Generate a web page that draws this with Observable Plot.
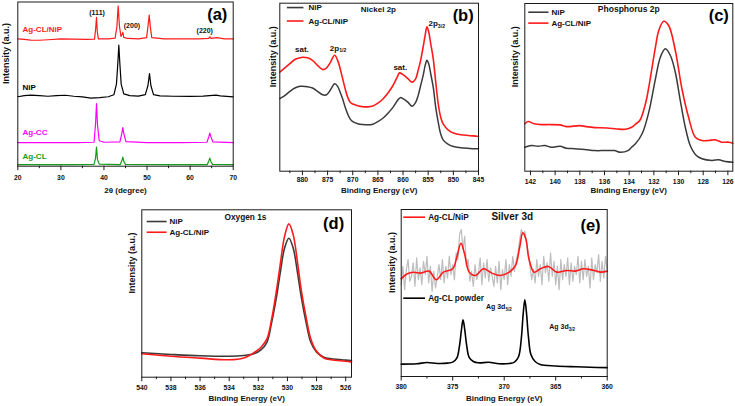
<!DOCTYPE html>
<html><head><meta charset="utf-8">
<script src="https://cdn.jsdelivr.net/npm/d3@7"></script>
<script src="https://cdn.jsdelivr.net/npm/@observablehq/plot@0.6"></script>
<style>
body{margin:0;background:#fff;}
#fig{position:relative;width:735px;height:406px;overflow:hidden;background:#fff;}
#fig svg{position:absolute;}
</style></head><body><div id="fig"></div>
<script>
// ---------- (a) XRD : [2theta, intensity] ----------
const xrdAgCL = [[20,0.9],[26,0.9],[32,1.0],[37.7,1.1],[38.05,5],[38.27,11.6],[38.5,4],[38.9,1.3],[43.8,1.0],[44.2,3.8],[44.38,5.5],[44.6,3],[45,1.1],[55,0.9],[64.0,1.0],[64.4,3.6],[64.57,4.9],[64.8,3],[65.2,1.1],[70,0.9]];
const xrdAgCC = [[20,14.4],[28,14.3],[34,14.4],[37.7,14.6],[38.05,26],[38.27,38.1],[38.5,25],[38.9,15.5],[40,14.6],[43.7,14.8],[44.15,20],[44.38,23.5],[44.6,20],[45.1,15],[50,14.3],[58,14.3],[63.9,14.6],[64.35,18],[64.57,20.2],[64.8,18],[65.3,14.8],[70,14.3]];
const xrdNiP = [[20,42.3],[21.5,43],[23,43.3],[25,43.0],[27,42.6],[29,43],[31,43.2],[33,42.6],[35,42.2],[37,41.5],[39,41.8],[41,42.3],[42.3,43.5],[42.9,50],[43.2,62],[43.45,73.7],[43.7,62],[44,50],[44.6,44],[46,43],[48,42.7],[49.6,43.6],[50.2,49],[50.57,56.4],[50.9,49],[51.5,43.6],[53,42.8],[56,42.6],[60,42.5],[63,42.7],[66,43.3],[67,42.8],[70,42.2]];
const xrdAgCLNiP = [[20,77.5],[21.5,77.2],[23,76.8],[25,76.7],[27,77.0],[30,77.6],[33,77.4],[36,77.2],[37.8,77.3],[38.05,83],[38.27,90.6],[38.45,82],[38.7,77.5],[41,77.5],[42.6,78],[43.0,85],[43.3,97.6],[43.6,85],[43.95,79],[44.15,80],[44.38,81.5],[44.6,78.5],[45.5,77.8],[48,77.6],[49.9,78.3],[50.25,86],[50.5,92],[50.75,85],[51.1,78.3],[54,77.6],[58,77.5],[62,77.6],[64.3,77.8],[64.57,78.8],[64.85,77.8],[66.2,78.3],[68,77.5],[70,77.5]];
const xrdTicks = [20,30,40,50,60,70];

// ---------- (b) Ni 2p : [BE, intensity] ----------
const niRed = [[884.5,59],[883.5,61.5],[882.5,64],[881.5,66.5],[880.5,67.5],[880,67.8],[879,67.5],[878,66],[877,63],[876,60.5],[875.2,61.5],[874.5,64.5],[873.6,69],[873,66],[872.5,61],[872,55],[871.5,49],[871,44],[870.5,41],[870,40],[869,39],[868,38.4],[867,38.3],[866,38.8],[865,40.5],[864,43],[863,46.5],[862,51],[861,57],[860.75,58.5],[860,57.5],[859,55],[858.2,53],[857.5,55],[857,60],[856.5,66],[856,74],[855.6,81],[855.25,85.9],[854.9,83],[854.5,76],[854,67],[853.5,53],[853,40],[852.5,32],[852,28],[851,24.5],[850,22.7],[848,21.5],[846,21],[845,20.7]];
const niBlack = [[884.5,43.2],[883.5,45],[882.5,47.5],[881.5,49.5],[880.5,50.5],[880,50.6],[879,50.3],[878,49.5],[877,47.5],[876,45.5],[875.2,45.5],[874.5,48],[873.6,52],[873,50.5],[872.5,47],[872,43],[871.5,38],[871,34],[870.5,31],[870,29.5],[869,28.3],[868,27.8],[867,27.6],[866,28],[865,29.5],[864,31.5],[863,34.5],[862,38],[861,42.5],[860.5,43.8],[860,43.2],[859,41],[858.2,38.6],[857.5,41],[857,45],[856.5,51],[856,57],[855.6,63],[855.25,66],[854.9,64],[854.5,58],[854,50],[853.5,38],[853,29],[852.5,22],[852,18.5],[851,16],[850,14.7],[848,13.8],[846,13.4],[845,13.3]];
const niTicks = [880,875,870,865,860,855,850,845];

// ---------- (c) P 2p ----------
const pRed = [[142.46,28.3],[142.19,29.6],[141.7,28.3],[141.1,27.8],[140.4,27.8],[139.6,27.6],[139.1,26.6],[138.0,27.2],[137.5,26.6],[136.8,26],[135.8,25.8],[135,25.2],[134.3,25],[133.8,26.2],[133.5,28],[133.14,30.2],[132.68,40.2],[132.41,50.1],[132.14,62],[131.87,74],[131.6,83.9],[131.2,89.4],[130.8,86.9],[130.26,72],[129.72,49],[129.18,32],[128.64,20.3],[128.1,18.3],[127.56,18.3],[127.02,18.7],[126.5,17.3],[125.93,17.3],[125.6,16.7]];
const pBlack = [[142.46,14.3],[141.92,15.3],[141.38,14.9],[140.84,15.3],[140.3,14.3],[139.6,14.9],[139.1,13.7],[138.4,13.4],[137.6,13],[136.8,12.3],[136,12.3],[135.2,12.3],[134.7,11.3],[134.1,12.3],[133.8,14.3],[133.49,16.3],[132.95,22.3],[132.41,35.2],[131.87,55.1],[131.47,68],[131.07,73],[130.66,69],[130.26,59],[129.86,42.2],[129.45,26.2],[129.05,15.3],[128.64,10],[128.1,7.4],[127.29,6.4],[126.75,6.8],[126.2,5.8],[125.6,5.4]];
const pTicks = [142,140,138,136,134,132,130,128,126];

// ---------- (d) O 1s ----------
const oBlack = [[540,14.6],[538,13.6],[536,12.8],[534,12.5],[533,13.0],[532.3,14],[531.8,16.5],[531.4,21],[531.1,32],[530.75,48],[530.5,62],[530.2,77],[529.9,83],[529.6,77],[529.3,62],[529.05,48],[528.7,32],[528.4,21],[528,15],[527.5,12],[527,11],[526,10.2],[525.6,10]];
const oRed = [[540,14],[538,12.5],[536,11.4],[534,10.4],[533,11.5],[532.5,13.5],[532,16.5],[531.8,18],[531.4,23],[531.1,34],[530.75,52],[530.5,67],[530.2,84],[529.9,91.6],[529.6,85],[529.3,68],[529.05,52],[528.7,35],[528.4,23],[528,15.5],[527.5,11.5],[527,10.4],[526,9.5],[525.6,9]];
const oTicks = [540,538,536,534,532,530,528,526];

// ---------- (e) Ag 3d ----------
const agBlack = [[380,7.4],[378.5,7.6],[377.5,8.4],[376.5,7.8],[375.5,8.0],[375,8.6],[374.6,11],[374.35,18],[374.15,28],[374.0,34],[373.85,29],[373.65,19],[373.4,11.5],[373,9],[372.5,8.2],[371.5,8.5],[370.5,7.6],[369.5,7.8],[369,8.6],[368.6,12],[368.35,22],[368.15,38],[368.0,46],[367.85,39],[367.65,24],[367.4,13],[367,9],[366.5,7.2],[365,6.3],[363,5.8],[361,5.4],[360,5.3]];
const agRed = [[380,58.5],[379.4,61.5],[378.8,62.4],[378.1,61.9],[377.3,63.1],[376.6,57.9],[375.9,62.5],[375.0,64.5],[374.6,71.5],[374.2,79.8],[373.85,73.5],[373.4,62.5],[372.8,60.5],[372.0,64.5],[371.2,61.9],[370.4,60.5],[369.5,62.5],[368.9,66.5],[368.5,77.4],[368.2,86],[367.9,82.5],[367.6,70.5],[367.1,62.5],[366.5,64.5],[365.7,65.9],[364.9,62.5],[363.9,63.5],[363.1,63.1],[362.3,64.5],[361.3,63.5],[360.6,62.5],[360,63.1]];
const agGreyStart = 380, agGreyStep = 1/6;
const agGrey = [55,66,52,64,70,57, 60,68,54,71,58,65, 55,69,61,72,56,66, 51,63,53,60,67,58, 70,56,66,59,72,61, 67,58,74,70,85,88, 76,84,66,70,57,63, 54,67,58,62,71,55, 68,59,70,57,65,60, 54,66,56,69,52,64, 58,70,55,67,60,72, 63,70,74,82,88,85, 87,80,74,66,58,64, 56,70,60,67,55,72, 62,68,57,74,60,69, 55,66,52,70,58,67, 60,71,55,68,57,66, 61,72,56,69,58,70, 60,66,53,71,58,67, 62,73,57,69,59,72, 64];
const agTicks = [380,375,370,365,360];

// ---------- helpers ----------
const FONT = "'Liberation Sans', Arial, Helvetica, sans-serif";
const RED = "#ff1a1a", DARK = "#3a3a3a";
const pts = a => a.map(([x, y]) => ({x, y}));
const mids = t => t.slice(1).map((v, i) => (v + t[i]) / 2);

function subscripts(svg) {
  svg.querySelectorAll("text").forEach(t => {
    if (t.children.length) return;
    const m = t.textContent.match(/^(.*)_\{(.*)\}$/);
    if (!m) return;
    t.textContent = m[1];
    const ts = document.createElementNS("http://www.w3.org/2000/svg", "tspan");
    ts.setAttribute("dy", "0.35em");
    ts.setAttribute("font-size", "65%");
    ts.textContent = m[2];
    t.append(ts);
  });
}

function panel(c) {
  const [fl, ft, fr, fb] = c.frame;
  const svg = Plot.plot({
    width: c.width, height: c.height,
    marginLeft: fl - c.left, marginRight: c.left + c.width - fr,
    marginTop: ft - c.top, marginBottom: c.top + c.height - fb,
    x: {domain: c.xDomain},
    y: {domain: [0, 100], axis: null},
    style: {fontFamily: FONT, fontWeight: "bold", fontSize: "6.8px", color: "#111", background: "transparent", overflow: "visible"},
    marks: [
      ...c.marks,
      Plot.frame({stroke: "#1a1a1a", strokeWidth: 1}),
      Plot.axisX(c.ticks, {tickSize: 4.5, tickPadding: c.tickPad, label: null, fontSize: 6.8, fontWeight: "bold", stroke: "#1a1a1a"}),
      Plot.axisX(c.minors ?? mids(c.ticks), {tickSize: 2.5, tickFormat: () => "", label: null, stroke: "#1a1a1a"}),
      Plot.text([c.xLabel], {text: d => d, frameAnchor: "bottom", dy: c.xLabelDy, fontSize: 8, fontWeight: "bold", fill: "#111"}),
      Plot.text(["Intensity (a.u.)"], {text: d => d, frameAnchor: "left", dx: c.yLabelDx, rotate: -90, fontSize: 9, fontWeight: "bold", fill: "#111"})
    ]
  });
  subscripts(svg);
  svg.style.left = c.left + "px";
  svg.style.top = c.top + "px";
  document.getElementById("fig").append(svg);
}

function lbl(items, opts) {
  return Plot.text(items, {x: d => d[0], y: d => d[1], text: d => d[2], fontWeight: "bold", ...opts});
}
function legend(rows, x1, x2, tx, fontSize) {
  return [
    Plot.ruleY(rows, {y: d => d[0], x1, x2, stroke: d => d[1], strokeWidth: 1.6}),
    Plot.text(rows, {x: tx, y: d => d[0], text: d => d[2], fill: "#111", textAnchor: "start", fontSize, fontWeight: "bold"})
  ];
}

// (a)
panel({
  left: 0, top: 0, width: 240, height: 200, frame: [17.3, 1.5, 232.7, 165.7],
  xDomain: [20, 70], ticks: xrdTicks, tickPad: 4, xLabel: "2θ (degree)", xLabelDy: 26.5, yLabelDx: -12,
  marks: [
    Plot.line(pts(xrdAgCL), {x: "x", y: "y", stroke: "#179a17", strokeWidth: 1.2}),
    Plot.line(pts(xrdAgCC), {x: "x", y: "y", stroke: "#ff00ff", strokeWidth: 1.2}),
    Plot.line(pts(xrdNiP), {x: "x", y: "y", stroke: "#000", strokeWidth: 1.2}),
    Plot.line(pts(xrdAgCLNiP), {x: "x", y: "y", stroke: RED, strokeWidth: 1.2}),
    lbl([[21.1, 83.3, "Ag-CL/NiP", RED], [21.1, 47.9, "NiP", "#000"], [21.1, 20.4, "Ag-CC", "#ff00ff"], [21.1, 5.9, "Ag-CL", "#179a17"]], {fill: d => d[3], textAnchor: "start", fontSize: 8}),
    lbl([[38.4, 93.5, "(111)"], [46.5, 85.3, "(200)"], [63.4, 82.3, "(220)"]], {fill: "#111", fontSize: 7}),
    lbl([[66.3, 92.1, "(a)"]], {fill: "#000", fontSize: 16.5})
  ]
});

// (b)
panel({
  left: 245, top: 0, width: 245, height: 200, frame: [279.3, 2.7, 478, 170.7],
  xDomain: [884.5, 845], ticks: niTicks, minors: [882.5, 877.5, 872.5, 867.5, 862.5, 857.5, 852.5, 847.5], tickPad: 1.5, xLabel: "Binding Energy (eV)", xLabelDy: 21.6, yLabelDx: -6.5,
  marks: [
    Plot.line(pts(niBlack), {x: "x", y: "y", stroke: DARK, strokeWidth: 1.5, curve: "catmull-rom"}),
    Plot.line(pts(niRed), {x: "x", y: "y", stroke: RED, strokeWidth: 1.6, curve: "catmull-rom"}),
    ...legend([[97.4, DARK, "NiP"], [89.4, RED, "Ag-CL/NiP"]], 883.0, 879.7, 878.8, 8),
    lbl([[864.9, 96.2, "Nickel 2p"]], {fill: "#111", fontSize: 8}),
    lbl([[848.05, 92.8, "(b)"]], {fill: "#000", fontSize: 16.5}),
    lbl([[880.1, 72.4, "sat."], [872.9, 73.3, "2p_{1/2}"], [860.55, 62.0, "sat."], [853.3, 87.9, "2p_{3/2}"]], {fill: "#111", fontSize: 8})
  ]
});

// (c)
panel({
  left: 495, top: 0, width: 240, height: 200, frame: [524.3, 3, 732.3, 170.7],
  xDomain: [142.46, 125.6], ticks: pTicks, minors: [141, 139, 137, 135, 133, 131, 129, 127], tickPad: 3, xLabel: "Binding Energy (eV)", xLabelDy: 21.3, yLabelDx: -9.3,
  marks: [
    Plot.line(pts(pBlack), {x: "x", y: "y", stroke: DARK, strokeWidth: 1.5, curve: "catmull-rom"}),
    Plot.line(pts(pRed), {x: "x", y: "y", stroke: RED, strokeWidth: 1.6, curve: "catmull-rom"}),
    ...legend([[94.8, DARK, "NiP"], [88.3, RED, "Ag-CL/NiP"]], 142.14, 140.5, 140.3, 8),
    lbl([[134.03, 96.4, "Phosphorus 2p"]], {fill: "#111", fontSize: 8.5}),
    lbl([[126.74, 92.8, "(c)"]], {fill: "#000", fontSize: 16.5})
  ]
});

// (d)
panel({
  left: 100, top: 200, width: 260, height: 206, frame: [141.3, 209.3, 351, 376.7],
  xDomain: [540, 525.6], ticks: oTicks, minors: [539, 537, 535, 533, 531, 529, 527], tickPad: 3, xLabel: "Binding Energy (eV)", xLabelDy: 23.3, yLabelDx: -9.3,
  marks: [
    Plot.line(pts(oBlack), {x: "x", y: "y", stroke: DARK, strokeWidth: 1.6, curve: "catmull-rom"}),
    Plot.line(pts(oRed), {x: "x", y: "y", stroke: RED, strokeWidth: 1.6, curve: "catmull-rom"}),
    ...legend([[93.0, DARK, "NiP"], [86.6, RED, "Ag-CL/NiP"]], 539.63, 538.26, 538.1, 8),
    lbl([[532.88, 95.6, "Oxygen 1s"]], {fill: "#111", fontSize: 8.3}),
    lbl([[526.83, 91.6, "(d)"]], {fill: "#000", fontSize: 16.5})
  ]
});

// (e)
panel({
  left: 360, top: 200, width: 260, height: 206, frame: [400.7, 209, 606.7, 376],
  xDomain: [380, 360], ticks: agTicks, minors: [377.5, 372.5, 367.5, 362.5], tickPad: 3, xLabel: "Binding Energy (eV)", xLabelDy: 24, yLabelDx: -8.7,
  marks: [
    Plot.line(agGrey.map((v, i) => ({x: agGreyStart - i * agGreyStep, y: v})), {x: "x", y: "y", stroke: "#bdbdbd", strokeWidth: 1.2}),
    Plot.line(pts(agRed), {x: "x", y: "y", stroke: RED, strokeWidth: 1.6, curve: "catmull-rom"}),
    Plot.line(pts(agBlack), {x: "x", y: "y", stroke: "#000", strokeWidth: 1.6, curve: "catmull-rom"}),
    ...legend([[95.4, RED, "Ag-CL/NiP"], [46.9, "#000", "Ag-CL powder"]], 379.75, 377.64, 377.38, 8.2),
    lbl([[369.22, 95.4, "Silver 3d"]], {fill: "#111", fontSize: 10}),
    lbl([[361.62, 90.4, "(e)"]], {fill: "#000", fontSize: 16.5}),
    lbl([[370.52, 41.5, "Ag 3d_{5/2}"], [364.37, 29.5, "Ag 3d_{3/2}"]], {fill: "#111", fontSize: 7})
  ]
});
</script>
</body></html>
